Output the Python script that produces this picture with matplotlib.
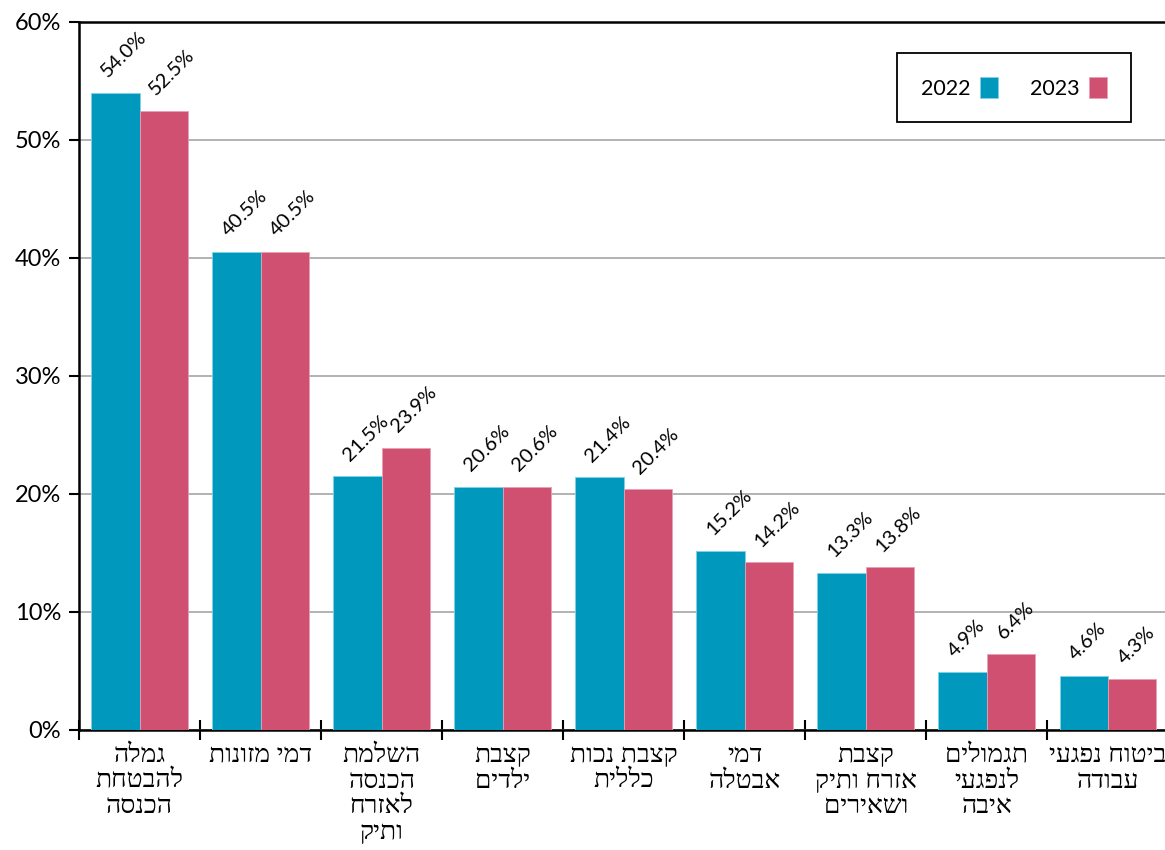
import numpy as np
import matplotlib
matplotlib.use("Agg")
import matplotlib.pyplot as plt
from matplotlib.ticker import FixedLocator, FuncFormatter

# ==========================================
# נתונים (Data)
# ==========================================
categories = [
    "גמלה\nלהבטחת\nהכנסה",
    "דמי מזונות",
    "השלמת\nהכנסה\nלאזרח\nותיק",
    "קצבת\nילדים",
    "קצבת נכות\nכללית",
    "דמי\nאבטלה",
    "קצבת\nאזרח ותיק\nושאירים",
    "תגמולים\nלנפגעי\nאיבה",
    "ביטוח נפגעי\nעבודה",
]
values_2022 = [54.0, 40.5, 21.5, 20.6, 21.4, 15.2, 13.3, 4.9, 4.6]
values_2023 = [52.5, 40.5, 23.9, 20.6, 20.4, 14.2, 13.8, 6.4, 4.3]
series_labels = ["2022", "2023"]
y_ticks = [0, 10, 20, 30, 40, 50, 60]

COLOR_2022 = "#0099BD"
COLOR_2023 = "#D05072"
NUM_FONT = ["Lato", "DejaVu Sans"]
HEB_FONT = ["Liberation Serif", "DejaVu Sans"]


def rtl(text):
    """matplotlib has no bidi support: reverse each line for right-to-left display."""
    return "\n".join(line[::-1] for line in text.split("\n"))


fig = plt.figure(figsize=(11.65, 8.5), dpi=100)
ax = fig.add_axes([79 / 1165, 120 / 850, 1 - 79 / 1165 + 0.003, (730 - 22) / 850])

x = np.arange(len(categories))
bar_w = 0.4
b1 = ax.bar(x - bar_w / 2, values_2022, bar_w, color=COLOR_2022,
            edgecolor="#7fd3e8", linewidth=0.6, label=series_labels[0], zorder=3)
b2 = ax.bar(x + bar_w / 2, values_2023, bar_w, color=COLOR_2023,
            edgecolor="#e8a0b2", linewidth=0.6, label=series_labels[1], zorder=3)

# value labels, rotated 45 degrees
for bars in (b1, b2):
    for rect in bars:
        h = rect.get_height()
        ax.annotate(f"{h:.1f}%", (rect.get_x() + rect.get_width() / 2, h),
                    xytext=(-4, 9), textcoords="offset points",
                    rotation=45, rotation_mode="anchor", ha="left", va="bottom",
                    fontsize=14.5, family=NUM_FONT, color="black")

ax.set_xlim(-0.5, len(categories) - 0.5)
ax.set_ylim(0, 60)

# y axis
ax.yaxis.set_major_locator(FixedLocator(y_ticks))
ax.yaxis.set_major_formatter(FuncFormatter(lambda v, p: f"{v:.0f}%"))
ax.tick_params(axis="y", direction="out", length=7, width=1.5, pad=6)
for lab in ax.get_yticklabels():
    lab.set_fontsize(17)
    lab.set_family(NUM_FONT)
ax.yaxis.grid(True, color="#a6a6a6", linewidth=1.2, zorder=0)

# x axis: labels at centers, tick marks between groups
ax.set_xticks(x)
ax.set_xticklabels([rtl(c) for c in categories], fontsize=19, family=HEB_FONT,
                   linespacing=1.2)
ax.tick_params(axis="x", which="major", length=0, pad=11)
ax.set_xticks(np.arange(len(categories) + 1) - 0.5, minor=True)
ax.tick_params(axis="x", which="minor", direction="inout", length=14, width=1.5)

for side in ("left", "bottom", "top"):
    ax.spines[side].set_linewidth(1.8)
    ax.spines[side].set_color("black")
ax.spines["right"].set_visible(False)

leg = ax.legend(loc="upper right", bbox_to_anchor=(1131 / 1165, 1 - 53 / 850),
                bbox_transform=fig.transFigure, ncol=2, markerfirst=False,
                prop={"family": NUM_FONT, "size": 15.5},
                handlelength=0.85, handleheight=1.15, handletextpad=0.45,
                columnspacing=1.45, borderpad=1.1, borderaxespad=0,
                fancybox=False, framealpha=1, edgecolor="black")
leg.get_frame().set_linewidth(1.3)

fig.savefig("out.png", dpi=100)
